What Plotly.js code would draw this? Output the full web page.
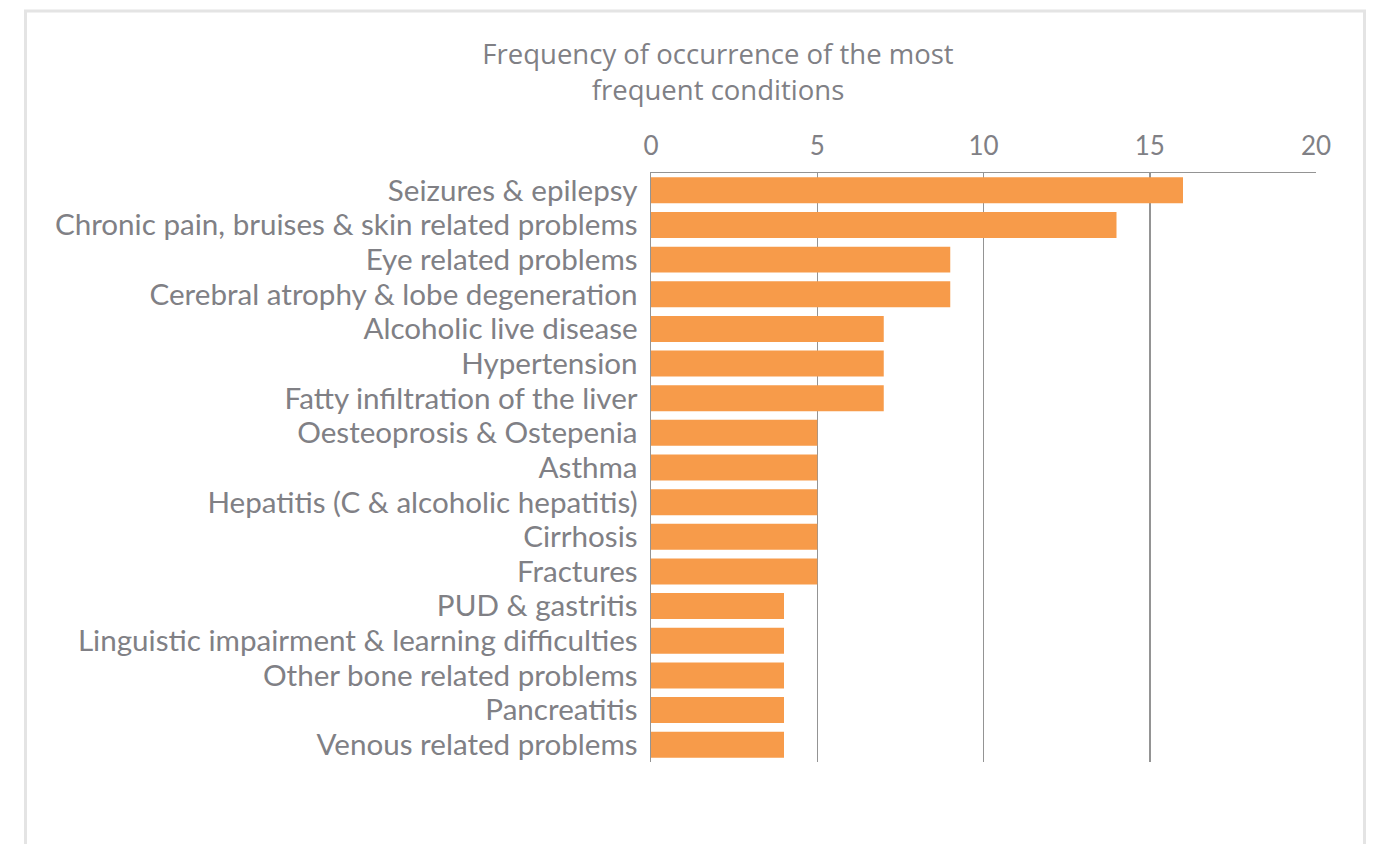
<!DOCTYPE html>
<html>
<head>
<meta charset="utf-8">
<script src="https://cdn.plot.ly/plotly-3.0.1.min.js"></script>
<style>html,body{margin:0;padding:0;background:#fff;}#chart{width:1379px;height:844px;}</style>
</head>
<body>
<div id="chart"></div>
<script>
const categories = [
  "Seizures & epilepsy",
  "Chronic pain, bruises & skin related problems",
  "Eye related problems",
  "Cerebral atrophy & lobe degeneration",
  "Alcoholic live disease",
  "Hypertension",
  "Fatty infiltration of the liver",
  "Oesteoprosis & Ostepenia",
  "Asthma",
  "Hepatitis (C & alcoholic hepatitis)",
  "Cirrhosis",
  "Fractures",
  "PUD & gastritis",
  "Linguistic impairment & learning difficulties",
  "Other bone related problems",
  "Pancreatitis",
  "Venous related problems"
];
const values = [16, 14, 9, 9, 7, 7, 7, 5, 5, 5, 5, 5, 4, 4, 4, 4, 4];
const tickValues = [0, 5, 10, 15, 20];
const titleText = "Frequency of occurrence of the most<br>frequent conditions";

const textColor = "#808085";
const trace = {
  type: "bar",
  orientation: "h",
  x: values,
  y: categories,
  marker: {color: "#F79B4A"},
  hoverinfo: "x+y"
};
const layout = {
  width: 1379, height: 844,
  paper_bgcolor: "#fff", plot_bgcolor: "#fff",
  margin: {l: 651, r: 63, t: 173, b: 82},
  bargap: 0.25,
  showlegend: false,
  font: {family: "Lato, 'Open Sans', sans-serif", color: textColor},
  title: {
    text: titleText,
    x: 718/1379, xanchor: "center", xref: "container",
    y: 1 - 64/844, yanchor: "middle", yref: "container",
    font: {family: "'Open Sans', sans-serif", size: 27.5, color: textColor}
  },
  xaxis: {
    side: "top",
    range: [0, 20],
    tickvals: tickValues,
    ticktext: tickValues.map(String),
    showgrid: true, gridcolor: "#949494", gridwidth: 1.5,
    zeroline: false,
    showline: true, linecolor: "#949494", linewidth: 1.5,
    ticks: "", ticklabelstandoff: 6,
    tickfont: {size: 26, color: textColor},
    fixedrange: true
  },
  yaxis: {
    autorange: "reversed",
    tickmode: "array",
    tickvals: categories,
    ticktext: categories,
    showgrid: false, zeroline: false,
    showline: true, linecolor: "#949494", linewidth: 1.5,
    ticks: "",
    ticklabelstandoff: 6,
    tickfont: {size: 29.6, color: textColor},
    fixedrange: true
  },
  shapes: [
    {type: "rect", xref: "paper", yref: "paper",
     x0: (25.5 - 651)/665, x1: (1364.5 - 651)/665,
     y0: (762 - 860)/589, y1: (762 - 11)/589,
     line: {color: "#e4e4e4", width: 3}, fillcolor: "rgba(0,0,0,0)", layer: "below"}
  ]
};
Plotly.newPlot("chart", [trace], layout, {displayModeBar: false, staticPlot: true});
</script>
</body>
</html>
